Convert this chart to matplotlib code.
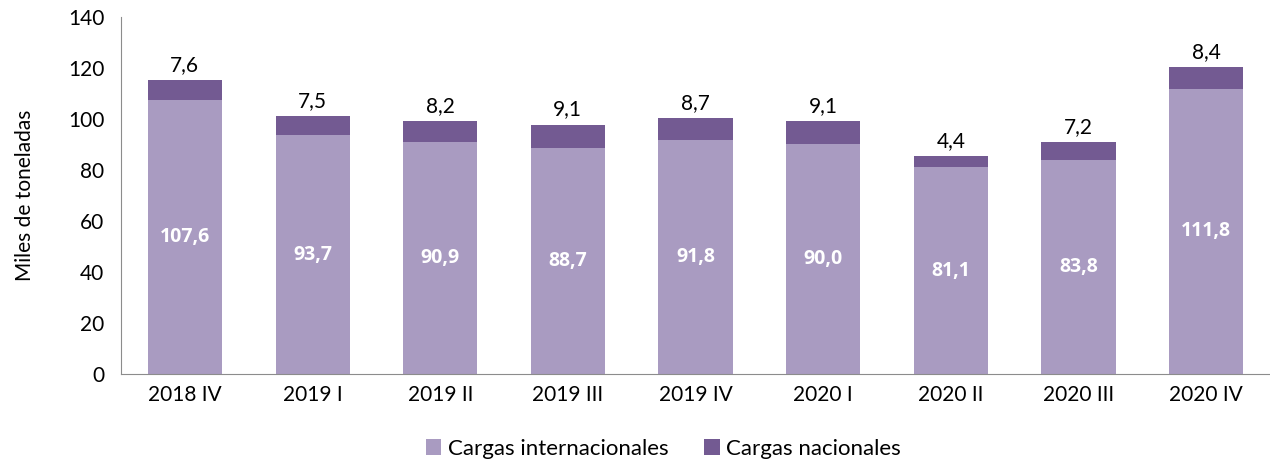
import numpy as np
import matplotlib.pyplot as plt

plt.rcParams['font.family'] = ['Lato', 'DejaVu Sans']

quarters = ["2018 IV", "2019 I", "2019 II", "2019 III", "2019 IV",
            "2020 I", "2020 II", "2020 III", "2020 IV"]
internacionales = [107.6, 93.7, 90.9, 88.7, 91.8, 90.0, 81.1, 83.8, 111.8]
nacionales = [7.6, 7.5, 8.2, 9.1, 8.7, 9.1, 4.4, 7.2, 8.4]

c_int = "#a99bc1"
c_nac = "#735a92"

fig = plt.figure(figsize=(12.7, 4.62), dpi=100)
ax = fig.add_axes([0.0953, 0.1905, 0.9047, 0.7727])

x = np.arange(len(quarters))
w = 0.58
ax.bar(x, internacionales, w, color=c_int, label="Cargas internacionales")
ax.bar(x, nacionales, w, bottom=internacionales, color=c_nac, label="Cargas nacionales")

fmt = lambda v: f"{v:.1f}".replace(".", ",")
for i in range(len(x)):
    ax.text(x[i], internacionales[i] / 2, fmt(internacionales[i]), ha="center", va="center",
            color="white", fontsize=14, fontweight="bold", family=["Open Sans", "DejaVu Sans"])
    ax.text(x[i], internacionales[i] + nacionales[i] + 2, fmt(nacionales[i]), ha="center",
            va="bottom", color="black", fontsize=15)

ax.set_xlim(-0.5, len(x) - 0.5)
ax.set_ylim(0, 140)
ax.set_yticks(range(0, 141, 20))
ax.set_xticks(x)
ax.set_xticklabels(quarters)
ax.tick_params(axis="y", length=0, labelsize=15, pad=12)
ax.tick_params(axis="x", length=0, labelsize=15, pad=8)
ax.set_ylabel("Miles de toneladas", fontsize=15, labelpad=24)

for s in ["top", "right"]:
    ax.spines[s].set_visible(False)
for s in ["left", "bottom"]:
    ax.spines[s].set_color("#8c8c8c")

ax.legend(loc="upper center", bbox_to_anchor=(0.472, -0.15), ncol=2, frameon=False,
          fontsize=16, handlelength=0.7, handleheight=0.7, handletextpad=0.3,
          columnspacing=1.6, borderpad=0)

fig.savefig("out.png", dpi=100)
